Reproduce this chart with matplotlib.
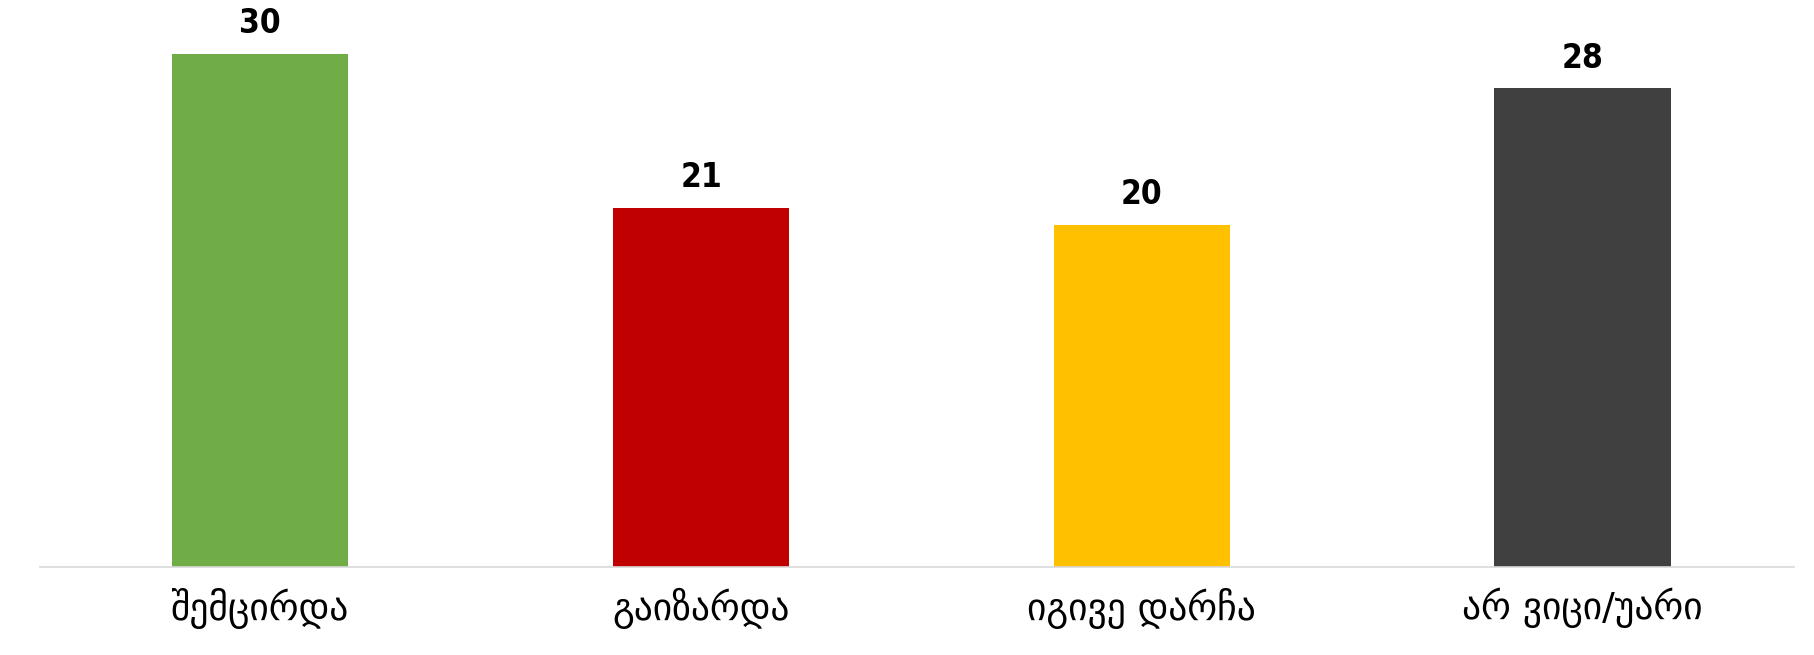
import numpy as np
import matplotlib.pyplot as plt

categories = ["შემცირდა", "გაიზარდა", "იგივე დარჩა", "არ ვიცი/უარი"]
values = [30, 21, 20, 28]
colors = ["#70AD47", "#C00000", "#FFC000", "#404040"]

fig = plt.figure(figsize=(18.14, 6.55), dpi=100)
ax = fig.add_axes([0.022, 0.1344, 0.967, 0.835])

x = np.arange(len(categories))
bars = ax.bar(x, values, width=0.4, color=colors)

for b, v in zip(bars, values):
    ax.annotate(str(v), (b.get_x() + b.get_width() / 2, v),
                xytext=(0, 10), textcoords="offset points",
                ha="center", va="bottom", fontsize=24, fontweight="bold",
                fontstretch="condensed", family=["DejaVu Sans"])

ax.set_xlim(-0.5, 3.48)
ax.set_ylim(0, 32)
ax.set_xticks(x)
ax.set_xticklabels(categories, fontsize=27, family=["DejaVu Sans"])
ax.tick_params(axis="x", length=0, pad=15)
ax.set_yticks([])
for s in ["top", "right", "left"]:
    ax.spines[s].set_visible(False)
ax.spines["bottom"].set_color("#D9D9D9")
ax.spines["bottom"].set_linewidth(1.2)

fig.savefig("out.png", dpi=100)
